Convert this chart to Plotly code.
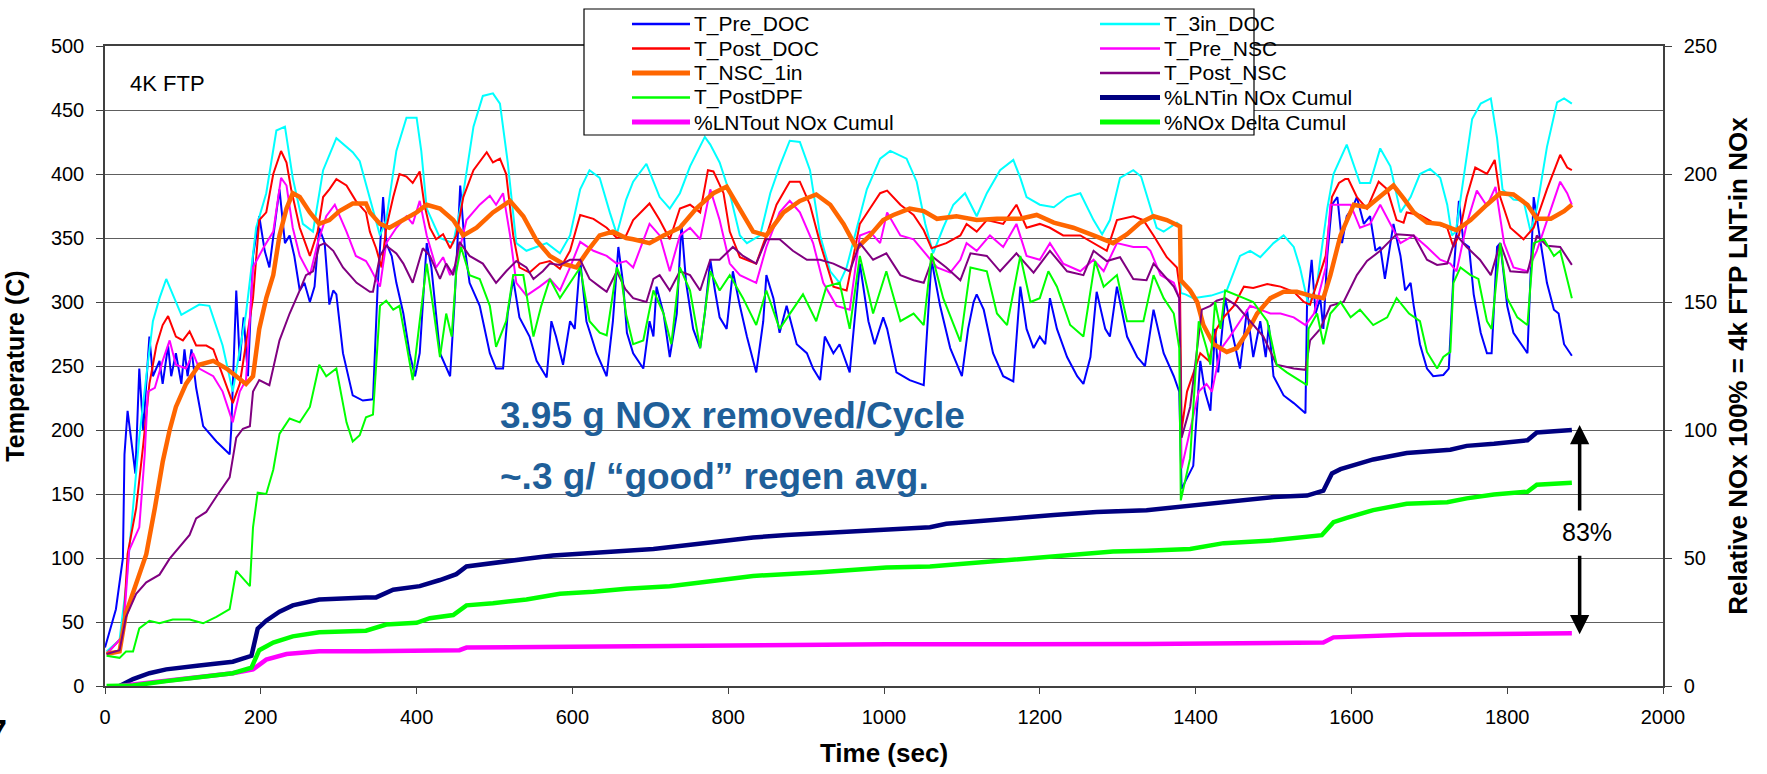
import plotly.graph_objects as go

# ---------------- temperature series (time s, temperature C) ----------------
pre_doc_pts = [
    (0, 30), (14, 60), (23, 100), (25, 181), (29, 215), (36, 181), (39, 166), (44, 248), (49, 200),
    (57, 273), (61.5, 242), (70, 254), (74, 236), (81, 266), (85, 242), (91, 260), (98, 236), (102, 263),
    (106, 242), (111, 263), (117, 233), (126, 203), (143, 191), (160, 181), (162, 200), (168.5, 309),
    (173, 254), (178, 288), (183.5, 242), (190, 336), (198, 367), (205, 340), (211, 327), (220, 370),
    (224, 388), (231, 346), (237, 352), (243, 336), (250, 309), (256, 315), (263, 300), (269, 312),
    (275, 358), (282, 346), (288, 298), (293, 309), (297, 306), (305.5, 260), (318, 227), (331, 223),
    (344, 224), (350, 312), (357, 382), (361, 346), (368, 336), (374, 315), (383, 291), (391, 260),
    (398, 242), (404, 260), (413, 346), (419, 327), (430, 260), (443, 242), (449, 303), (456, 391),
    (462, 342), (468, 315), (481, 297), (494, 260), (502, 248), (511, 248), (517, 291), (524, 318),
    (532, 288), (545, 273), (554, 254), (567, 241), (573, 285), (579, 273), (588, 251), (597, 285),
    (603, 279), (610, 333), (618, 285), (631, 260), (644, 242), (652, 285), (659, 343), (665, 315),
    (670, 276), (678, 260), (691, 248), (699, 285), (704, 273), (708, 312), (717, 291), (725, 257),
    (734, 291), (740, 361), (746, 315), (755, 279), (764, 264), (770, 291), (777, 333), (783, 309),
    (789, 288), (798, 279), (806, 324), (815, 297), (824, 273), (836, 245), (845, 285), (849, 321),
    (858, 303), (866, 276), (875, 297), (888, 267), (901, 260), (909, 248), (918, 239), (924, 273),
    (935, 260), (943, 267), (956, 245), (963, 291), (969, 330), (980, 285), (988, 267), (999, 288),
    (1004, 279), (1016, 245), (1033, 239), (1051, 235), (1061, 333), (1072, 297), (1085, 264),
    (1100, 242), (1108, 279), (1115, 300), (1119, 306), (1128, 294), (1140, 260), (1153, 242),
    (1166, 238), (1175, 312), (1183, 279), (1192, 264), (1200, 273), (1207, 267), (1213, 303),
    (1222, 279), (1235, 257), (1248, 242), (1256, 236), (1265, 257), (1273, 308), (1284, 279),
    (1290, 273), (1299, 312), (1312, 273), (1325, 257), (1335, 250), (1346, 294), (1359, 260),
    (1372, 242), (1379, 230), (1382, 154), (1397, 172), (1406, 254), (1412, 230), (1419, 215),
    (1425, 279), (1429, 245), (1438, 303), (1447, 276), (1457, 248), (1466, 294), (1474, 257),
    (1483, 285), (1490, 257), (1494, 282), (1500, 242), (1513, 227), (1526, 221), (1541, 213),
    (1543, 297), (1549, 333), (1554, 291), (1560, 303), (1564, 279), (1569, 336), (1575, 376),
    (1582, 382), (1588, 346), (1594, 367), (1601, 373), (1607, 382), (1616, 361), (1624, 367),
    (1631, 340), (1637, 343), (1643, 318), (1654, 361), (1663, 336), (1669, 309), (1676, 315),
    (1680, 297), (1688, 267), (1697, 248), (1705, 242), (1718, 243), (1725, 248), (1731, 321),
    (1738, 379), (1744, 346), (1751, 343), (1757, 306), (1766, 276), (1774, 260), (1780, 260),
    (1787, 343), (1791, 346), (1800, 297), (1808, 276), (1826, 260), (1834, 382), (1843, 346),
    (1851, 315), (1860, 294), (1866, 291), (1873, 267), (1883, 258),
]

doc_3in_pts = [
    (2, 27), (18.7, 36), (27, 78), (36, 139), (44, 194), (53, 242), (61.5, 285), (70, 303), (78.6, 318),
    (98, 290), (121, 298), (134, 297), (151, 266), (164, 230), (181, 291), (194, 358), (207, 385),
    (220, 434), (231, 437), (241, 397), (254, 361), (267, 355), (280, 403), (297, 428), (318, 417),
    (327, 410), (344, 373), (353, 352), (361, 364), (374, 418), (387, 444), (400, 444), (406, 418),
    (413, 373), (430, 350), (447, 346), (460, 385), (473, 437), (485, 461), (498, 463), (507, 455),
    (517, 409), (528, 346), (541, 340), (567, 346), (584, 338), (597, 352), (610, 388), (622, 403),
    (635, 397), (648, 370), (657, 353), (669, 380), (678, 394), (695, 408), (712, 382), (725, 373),
    (738, 385), (751, 406), (770, 429), (777, 423), (789, 409), (802, 385), (815, 352), (824, 346),
    (841, 352), (854, 385), (866, 406), (879, 426), (892, 425), (905, 403), (918, 352), (931, 324),
    (943, 315), (952, 327), (965, 358), (978, 388), (995, 412), (1008, 418), (1029, 412), (1042, 394),
    (1053, 361), (1063, 338), (1076, 358), (1089, 376), (1104, 385), (1119, 367), (1132, 385),
    (1149, 403), (1166, 411), (1175, 397), (1183, 382), (1200, 376), (1218, 374), (1235, 382),
    (1252, 385), (1269, 364), (1280, 353), (1290, 364), (1303, 397), (1320, 403), (1330, 398),
    (1342, 373), (1350, 358), (1359, 355), (1376, 362), (1380, 360), (1381, 307), (1387, 306),
    (1397, 303), (1420, 305), (1440, 309), (1457, 336), (1470, 340), (1483, 335), (1500, 346),
    (1513, 352), (1526, 343), (1534, 327), (1545, 297), (1556, 315), (1569, 373), (1577, 400),
    (1594, 423), (1611, 393), (1624, 393), (1637, 420), (1650, 406), (1663, 370), (1676, 382),
    (1688, 400), (1701, 404), (1714, 397), (1723, 376), (1729, 352), (1734, 355), (1744, 397),
    (1755, 443), (1766, 455), (1779, 459), (1787, 428), (1794, 388), (1808, 380), (1821, 379),
    (1830, 355), (1838, 373), (1851, 421), (1864, 456), (1873, 459), (1883, 455),
]

post_doc_pts = [
    (2, 25), (23, 39), (29, 103), (40, 139), (49, 188), (57, 236), (66, 266), (74, 282), (81, 289),
    (91, 273), (100, 270), (108.6, 277), (117, 266), (130, 266), (139, 263), (151, 242), (164, 221),
    (173, 236), (181, 266), (190, 303), (198, 364), (207, 370), (216, 400), (226, 418), (233, 409),
    (239, 388), (250, 358), (263, 336), (273, 355), (280, 382), (288, 388), (297, 396), (310, 391),
    (322, 379), (335, 370), (340, 355), (348, 342), (355, 327), (361, 358), (370, 382), (378, 400),
    (387, 398), (395, 393), (404, 402), (410, 376), (417, 358), (425, 349), (434, 353), (443, 342),
    (451, 352), (460, 382), (473, 403), (490, 417), (498, 409), (507, 412), (515, 400), (524, 352),
    (532, 327), (545, 323), (558, 330), (571, 332), (584, 326), (597, 340), (610, 368), (627, 365),
    (644, 358), (657, 350), (669, 352), (678, 364), (699, 377), (712, 364), (725, 349), (738, 373),
    (751, 376), (764, 370), (774, 403), (781, 402), (794, 385), (802, 355), (815, 335), (836, 330),
    (849, 352), (862, 376), (879, 394), (892, 394), (905, 376), (918, 346), (935, 312), (952, 309),
    (969, 361), (982, 373), (995, 385), (1004, 387), (1021, 376), (1038, 368), (1051, 356),
    (1061, 342), (1080, 346), (1098, 352), (1106, 361), (1119, 355), (1132, 364), (1153, 361),
    (1170, 376), (1183, 358), (1200, 361), (1213, 358), (1230, 352), (1252, 352), (1269, 346),
    (1286, 340), (1299, 364), (1320, 367), (1333, 364), (1346, 352), (1363, 335), (1376, 327),
    (1380, 309), (1382, 200), (1389, 230), (1397, 245), (1406, 260), (1417, 254), (1427, 279),
    (1436, 288), (1449, 297), (1462, 312), (1474, 311), (1492, 314), (1509, 312), (1526, 308),
    (1539, 300), (1547, 298), (1556, 315), (1567, 336), (1575, 382), (1584, 393), (1592, 396),
    (1596, 396), (1607, 382), (1620, 373), (1635, 394), (1646, 388), (1658, 364), (1667, 362),
    (1671, 370), (1688, 368), (1705, 362), (1723, 358), (1731, 343), (1738, 352), (1748, 382),
    (1759, 405), (1774, 400), (1784, 411), (1791, 382), (1804, 358), (1821, 349), (1834, 358),
    (1851, 388), (1868, 415), (1877, 405), (1883, 403),
]

pre_nsc_pts = [
    (2, 25), (23, 39), (31, 106), (44, 124), (51, 181), (55, 230), (64, 233), (74, 254), (83, 270),
    (91, 251), (104, 248), (113, 260), (121, 248), (139, 242), (151, 230), (164, 206), (173, 230),
    (181, 239), (190, 327), (203, 342), (216, 355), (226, 397), (233, 391), (241, 358), (250, 336),
    (263, 321), (273, 346), (284, 367), (295, 376), (310, 355), (322, 336), (335, 332), (340, 327),
    (353, 312), (361, 346), (374, 358), (387, 367), (395, 361), (404, 379), (413, 352), (425, 327),
    (434, 335), (443, 321), (451, 330), (464, 364), (481, 376), (494, 383), (502, 376), (511, 385),
    (520, 352), (528, 315), (541, 305), (558, 312), (571, 318), (584, 309), (597, 327), (610, 347),
    (627, 340), (644, 336), (657, 330), (669, 332), (678, 327), (699, 361), (712, 352), (725, 324),
    (738, 352), (751, 358), (764, 349), (777, 388), (789, 364), (802, 330), (815, 321), (836, 315),
    (849, 343), (866, 370), (879, 379), (892, 370), (909, 346), (922, 315), (939, 297), (956, 294),
    (969, 352), (982, 355), (995, 346), (1004, 370), (1021, 352), (1038, 349), (1055, 336),
    (1068, 327), (1085, 323), (1098, 333), (1106, 346), (1119, 340), (1136, 352), (1153, 343),
    (1170, 361), (1183, 336), (1200, 333), (1213, 346), (1230, 330), (1252, 324), (1269, 333),
    (1282, 324), (1299, 346), (1320, 343), (1337, 343), (1342, 340), (1355, 321), (1372, 315),
    (1379, 303), (1382, 170), (1393, 200), (1404, 230), (1414, 236), (1421, 230), (1432, 263),
    (1444, 273), (1457, 285), (1470, 297), (1483, 294), (1496, 291), (1509, 291), (1526, 288),
    (1541, 282), (1552, 291), (1567, 327), (1573, 376), (1586, 376), (1599, 376), (1611, 358),
    (1624, 361), (1637, 376), (1650, 361), (1663, 346), (1680, 352), (1697, 343), (1714, 333),
    (1727, 330), (1735, 324), (1748, 361), (1761, 387), (1774, 375), (1785, 390), (1796, 346),
    (1808, 327), (1826, 324), (1838, 340), (1851, 364), (1868, 394), (1877, 385), (1883, 376),
]

nsc_1in_pts = [
    (2, 25), (18.7, 27), (27, 57), (40, 81), (53, 103), (64, 139), (74, 175), (83, 200), (91, 218),
    (104, 236), (121, 251), (139, 254), (156, 248), (168.5, 242), (181, 236), (190, 242), (198, 279),
    (207, 303), (216, 321), (224, 352), (233, 373), (241, 385), (250, 382), (263, 370), (275, 361),
    (288, 364), (301, 371), (318, 377), (335, 377), (340, 370), (353, 361), (365, 358), (383, 364),
    (400, 370), (413, 376), (430, 373), (447, 364), (460, 352), (477, 358), (498, 370), (520, 379),
    (537, 367), (554, 348), (571, 336), (588, 330), (605, 327), (622, 342), (635, 352), (652, 355),
    (669, 350), (678, 349), (699, 346), (717, 352), (738, 358), (759, 373), (781, 385), (798, 390),
    (815, 373), (832, 355), (849, 352), (871, 370), (892, 379), (913, 384), (931, 376), (948, 361),
    (965, 342), (982, 352), (999, 364), (1012, 368), (1033, 373), (1051, 371), (1068, 365),
    (1093, 367), (1119, 364), (1145, 365), (1175, 365), (1196, 368), (1218, 362), (1243, 358),
    (1269, 352), (1294, 346), (1312, 353), (1329, 362), (1346, 367), (1363, 364), (1380, 359),
    (1381, 317), (1393, 309), (1402, 300), (1410, 282), (1423, 267), (1440, 261), (1453, 264),
    (1466, 276), (1479, 291), (1496, 303), (1513, 308), (1530, 308), (1547, 305), (1564, 303),
    (1573, 321), (1586, 352), (1603, 376), (1620, 374), (1637, 382), (1654, 391), (1667, 381),
    (1680, 370), (1697, 362), (1714, 361), (1735, 356), (1753, 364), (1774, 376), (1791, 385),
    (1808, 384), (1826, 376), (1838, 365), (1856, 365), (1873, 371), (1883, 376),
]

post_nsc_pts = [
    (2, 25), (18.7, 28), (27, 54), (40, 72), (53, 81), (70, 87), (83, 99.5), (96, 109), (108.6, 118),
    (117, 131), (130, 136), (143, 148), (160, 163), (168.5, 194), (177, 201), (186, 203), (190, 230),
    (198, 239), (211, 235), (224, 270), (237, 291), (250, 309), (258, 321), (267, 324), (275, 344),
    (282, 346), (293, 340), (305.5, 327), (323, 315), (340, 308), (344, 308), (353, 336), (361, 344),
    (374, 338), (383, 330), (395, 315), (408, 342), (417, 336), (430, 318), (438, 330), (447, 321),
    (455, 347), (468, 336), (485, 330), (502, 315), (515, 324), (528, 332), (541, 327), (550, 318),
    (562, 324), (571, 330), (584, 329), (597, 333), (610, 333), (622, 318), (635, 312), (644, 308),
    (657, 324), (668, 310), (678, 303), (695, 300), (704, 318), (712, 321), (725, 309), (738, 324),
    (751, 321), (764, 309), (777, 333), (789, 333), (806, 343), (819, 336), (836, 330), (849, 349),
    (866, 349), (883, 340), (901, 333), (918, 333), (935, 330), (956, 324), (969, 346), (986, 333),
    (1003, 338), (1021, 321), (1038, 317), (1051, 315), (1063, 335), (1080, 327), (1098, 317),
    (1111, 338), (1132, 336), (1149, 324), (1170, 338), (1192, 323), (1213, 340), (1235, 324),
    (1256, 321), (1269, 340), (1286, 332), (1303, 335), (1320, 318), (1337, 317), (1346, 330),
    (1359, 321), (1372, 312), (1379, 303), (1382, 194), (1393, 218), (1408, 294), (1419, 297),
    (1427, 301), (1438, 303), (1453, 297), (1470, 285), (1487, 273), (1504, 251), (1526, 248),
    (1541, 247), (1547, 270), (1560, 279), (1573, 297), (1590, 300), (1607, 321), (1620, 332),
    (1637, 340), (1658, 353), (1680, 352), (1697, 333), (1710, 329), (1723, 330), (1735, 352),
    (1748, 343), (1765, 333), (1779, 321), (1791, 346), (1804, 324), (1826, 323), (1838, 352),
    (1851, 344), (1868, 343), (1883, 329),
]

post_dpf_pts = [
    (2, 23.6), (18.7, 22), (27, 27), (36, 27), (44, 45), (57, 51), (70, 49), (87, 52), (108.6, 52),
    (126, 49), (143, 54), (160, 60), (168.5, 90), (177, 84), (186, 78), (190, 124), (196, 151),
    (207, 150), (216, 169), (224, 197), (237, 209), (250, 206), (263, 218), (275, 251), (284, 242),
    (297, 248), (310, 206), (318, 191), (327, 196), (335, 210), (344, 212), (353, 297), (361, 301),
    (370, 294), (378, 297), (387, 267), (395, 239), (404, 285), (413, 330), (421, 297), (430, 257),
    (438, 291), (445, 273), (451, 324), (457, 343), (468, 321), (481, 318), (494, 297), (502, 265),
    (515, 285), (524, 321), (537, 321), (550, 273), (560, 297), (571, 318), (584, 303), (597, 315),
    (610, 327), (622, 285), (635, 276), (644, 274), (657, 327), (663, 318), (669, 290), (678, 267),
    (691, 270), (704, 309), (717, 291), (727, 267), (738, 327), (751, 309), (764, 264), (777, 324),
    (789, 309), (802, 321), (819, 303), (836, 282), (849, 309), (866, 279), (879, 291), (896, 306),
    (913, 285), (926, 312), (943, 315), (956, 279), (969, 336), (986, 291), (1003, 324), (1021, 285),
    (1038, 291), (1051, 282), (1061, 338), (1076, 303), (1098, 269), (1111, 327), (1132, 324),
    (1145, 291), (1158, 282), (1175, 336), (1188, 300), (1200, 303), (1211, 324), (1222, 312),
    (1239, 282), (1256, 273), (1271, 332), (1282, 312), (1299, 321), (1312, 285), (1333, 285),
    (1346, 321), (1359, 303), (1372, 291), (1379, 264), (1381, 145), (1393, 178), (1404, 285),
    (1414, 264), (1419, 251), (1425, 300), (1432, 279), (1438, 309), (1449, 306), (1462, 303),
    (1474, 300), (1492, 285), (1504, 251), (1517, 245), (1543, 235), (1545, 279), (1556, 291),
    (1564, 267), (1573, 291), (1586, 300), (1599, 288), (1611, 294), (1628, 282), (1646, 288),
    (1658, 303), (1674, 291), (1688, 285), (1697, 261), (1710, 248), (1718, 257), (1727, 261),
    (1731, 315), (1740, 327), (1753, 321), (1763, 318), (1774, 285), (1780, 279), (1791, 346),
    (1800, 303), (1813, 288), (1826, 282), (1834, 346), (1847, 349), (1860, 336), (1868, 340),
    (1877, 318), (1883, 303),
]

# ---------------- cumulative NOx series (time s, % of LNT-in total) ----------------
lnt_in_pts = [
    (18.7, 0), (36, 2.7), (57, 5), (78.6, 6.5), (121, 8), (164, 9.5), (188, 11.8), (196, 22.4),
    (207, 25.5), (224, 29), (241, 31.5), (275, 33.8), (335, 34.6), (348, 34.6), (370, 37.6),
    (404, 39), (430, 41.4), (451, 43.7), (464, 46.7), (498, 48.2), (541, 49.7), (575, 51), (627, 52),
    (669, 53), (704, 53.5), (746, 55), (789, 56.6), (832, 58), (875, 59), (960, 60.4), (1003, 61.5),
    (1059, 62), (1080, 63.4), (1123, 64.6), (1175, 65.7), (1218, 66.8), (1273, 68), (1337, 68.7),
    (1436, 71.8), (1500, 73.8), (1543, 74.4), (1564, 76.3), (1575, 83), (1586, 84.7), (1628, 88.5),
    (1671, 91), (1727, 92.3), (1748, 93.8), (1783, 94.6), (1826, 96), (1838, 99), (1883, 100),
]

lnt_out_pts = [
    (19, 0), (78.6, 1.9), (121, 3.4), (164, 5), (190, 6.5), (207, 10.3), (233, 12.5), (275, 13.6),
    (335, 13.6), (455, 14), (464, 15), (669, 15.5), (832, 16), (1003, 16.3), (1337, 16.4),
    (1564, 17), (1577, 19), (1671, 20), (1883, 20.6),
]

nox_delta_pts = [
    (2, 0), (36, 0.2), (78.6, 1.9), (121, 3.4), (164, 5), (188, 7.2), (198, 14), (216, 17),
    (241, 19.4), (275, 21), (335, 21.6), (361, 24), (400, 24.7), (417, 26.5), (447, 27.7),
    (464, 31.5), (498, 32.3), (541, 33.8), (584, 36), (627, 36.8), (669, 38), (725, 39), (768, 40.6),
    (832, 43), (918, 44.4), (960, 45.5), (1003, 46.3), (1059, 46.7), (1123, 48.2), (1175, 49.5),
    (1230, 51), (1294, 52.5), (1337, 52.8), (1393, 53.5), (1436, 55.8), (1500, 56.9), (1562, 58.9),
    (1577, 64), (1594, 65.7), (1628, 68.7), (1671, 71.2), (1723, 71.8), (1748, 73.3), (1783, 74.8),
    (1826, 75.9), (1838, 78.6), (1883, 79.4),
]

x_ticks = list(range(0, 2001, 200))
left_ticks = list(range(0, 501, 50))
right_ticks = list(range(0, 251, 50))

FONT = "Liberation Sans, Arial, sans-serif"
AXIS_COLOR = "#404040"
GRID_COLOR = "#5e5e5e"

# name, points, colour, line width, axis
series = [
    ("T_Pre_DOC", pre_doc_pts, "#0000FF", 2, "y"),
    ("T_3in_DOC", doc_3in_pts, "#00FFFF", 2, "y"),
    ("T_Post_DOC", post_doc_pts, "#FF0000", 2, "y"),
    ("T_Pre_NSC", pre_nsc_pts, "#FF00FF", 2, "y"),
    ("T_NSC_1in", nsc_1in_pts, "#FF6600", 4.5, "y"),
    ("T_Post_NSC", post_nsc_pts, "#800080", 2, "y"),
    ("T_PostDPF", post_dpf_pts, "#00FF00", 2, "y"),
    ("%LNTin NOx Cumul", lnt_in_pts, "#000080", 4.5, "y2"),
    ("%LNTout NOx Cumul", lnt_out_pts, "#FF00FF", 4.5, "y2"),
    ("%NOx Delta Cumul", nox_delta_pts, "#00FF00", 4.5, "y2"),
]

fig = go.Figure()
for name, pts, color, width, yax in series:
    t_vals = [p[0] for p in pts]
    v_vals = [p[1] for p in pts]
    fig.add_trace(go.Scatter(
        x=t_vals, y=v_vals, name=name, mode="lines", yaxis=yax, showlegend=False,
        line=dict(color=color, width=width),
    ))

W, H = 1767, 774
ML, MR, MT, MB = 105, 104, 46, 88
PW, PH = W - ML - MR, H - MT - MB


def px_x(px):
    return (px - ML) / PW


def px_y(py):
    return (H - MB - py) / PH


fig.update_layout(
    width=W, height=H,
    margin=dict(l=ML, r=MR, t=MT, b=MB, autoexpand=False),
    paper_bgcolor="white", plot_bgcolor="white",
    font=dict(family=FONT, size=20, color="black"),
    showlegend=False,
    xaxis=dict(
        range=[0, 2000], tickvals=x_ticks, ticks="outside", ticklen=6, tickcolor=AXIS_COLOR,
        showline=True, linecolor=AXIS_COLOR, linewidth=1.5, mirror=True, showgrid=False,
        zeroline=False, tickfont=dict(size=20), ticklabelstandoff=6,
        title=dict(text="<b>Time (sec)</b>", font=dict(size=26), standoff=17),
    ),
    yaxis=dict(
        range=[0, 500], tickvals=left_ticks, ticks="outside", ticklen=7, tickcolor=AXIS_COLOR,
        showline=True, linecolor=AXIS_COLOR, linewidth=1.5, showgrid=True,
        gridcolor=GRID_COLOR, gridwidth=1, zeroline=False, tickfont=dict(size=20),
        ticklabelstandoff=8,
        title=dict(text="<b>Temperature (C)</b>", font=dict(size=25), standoff=19),
    ),
    yaxis2=dict(
        range=[0, 250], tickvals=right_ticks, overlaying="y", side="right", ticks="outside",
        ticklen=7, tickcolor=AXIS_COLOR, showline=True, linecolor=AXIS_COLOR, linewidth=1.5,
        showgrid=False, zeroline=False, tickfont=dict(size=20), ticklabelstandoff=8,
        title=dict(text="<b>Relative NOx 100% = 4k FTP LNT-in NOx</b>", font=dict(size=26),
                   standoff=13),
    ),
)

# ---- legend: framed box, two columns of line samples with series names ----
shapes = [dict(type="rect", xref="paper", yref="paper", layer="above",
               x0=px_x(584), x1=px_x(1254), y0=px_y(135), y1=px_y(9),
               line=dict(color="black", width=1.2), fillcolor="white")]
col_line_x = [(632, 690), (1100, 1160)]
row_y = [24, 48.5, 73, 97.5, 122]
for i, (name, _pts, color, width, _yax) in enumerate(series):
    col, row = i % 2, i // 2
    x0, x1 = col_line_x[col]
    yy = px_y(row_y[row])
    shapes.append(dict(type="line", xref="paper", yref="paper", layer="above",
                       x0=px_x(x0), x1=px_x(x1), y0=yy, y1=yy,
                       line=dict(color=color, width=width + 0.5)))
    fig.add_annotation(x=px_x(x1 + 2), y=yy, xref="paper", yref="paper", text=name,
                       showarrow=False, xanchor="left", yanchor="middle",
                       font=dict(size=21, color="black"))
fig.update_layout(shapes=shapes)

blue_text = "#1F5F99"
fig.add_annotation(x=30, y=471, xref="x", yref="y", text="4K FTP", showarrow=False,
                   xanchor="left", yanchor="middle", font=dict(size=22, color="black"))
fig.add_annotation(x=504, y=211, xref="x", yref="y", text="<b>3.95 g NOx removed/Cycle</b>",
                   showarrow=False, xanchor="left", yanchor="middle",
                   font=dict(size=37, color=blue_text))
fig.add_annotation(x=504, y=164, xref="x", yref="y",
                   text="<b>~.3 g/ \u201cgood\u201d regen avg.</b>",
                   showarrow=False, xanchor="left", yanchor="middle",
                   font=dict(size=37, color=blue_text))

# double arrow spanning LNT-in and LNT-out end points
arrow_x = 1893
fig.add_annotation(x=arrow_x, y=102, xref="x", yref="y2", ax=arrow_x, ay=68, axref="x",
                   ayref="y2", text="", showarrow=True, arrowhead=2, arrowsize=1.1,
                   arrowwidth=3.5, arrowcolor="black")
fig.add_annotation(x=arrow_x, y=20.2, xref="x", yref="y2", ax=arrow_x, ay=51.5, axref="x",
                   ayref="y2", text="", showarrow=True, arrowhead=2, arrowsize=1.1,
                   arrowwidth=3.5, arrowcolor="black")
fig.add_annotation(x=1903, y=60.3, xref="x", yref="y2", text="83%", showarrow=False,
                   xanchor="center", yanchor="middle", font=dict(size=25, color="black"))

# page number fragment at the lower-left edge
fig.add_annotation(x=px_x(9), y=px_y(731), xref="paper", yref="paper", text="<b>7</b>",
                   showarrow=False, xanchor="right", yanchor="middle",
                   font=dict(size=34, color="black"))

fig.write_html("out.html")
